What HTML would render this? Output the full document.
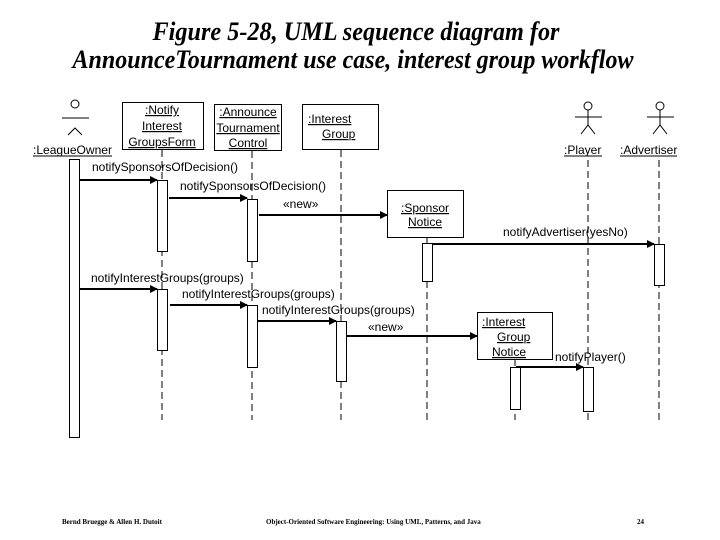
<!DOCTYPE html>
<html><head><meta charset="utf-8"><style>
html,body{margin:0;padding:0;background:#fff;}
svg{display:block;}
text{font-family:"Liberation Sans",sans-serif;font-size:12px;fill:#000;}
.t{font-family:"Liberation Serif",serif;font-style:italic;font-weight:bold;font-size:26px;}
.f{font-family:"Liberation Serif",serif;font-weight:bold;font-size:7px;}
.d{stroke:#000;stroke-width:1;stroke-dasharray:7,4;fill:none;}
.b{fill:#fff;stroke:#000;stroke-width:1;}
.a{stroke:#000;stroke-width:2;fill:none;}
</style></head><body>
<svg width="720" height="540" viewBox="0 0 720 540" xmlns="http://www.w3.org/2000/svg">
<defs><marker id="ar" markerWidth="8" markerHeight="8" refX="7" refY="4" orient="auto" markerUnits="userSpaceOnUse"><path d="M0,0 L8,4 L0,8 z" fill="#000"/></marker></defs>
<text class="t" x="356" y="40" text-anchor="middle" textLength="407" lengthAdjust="spacingAndGlyphs">Figure 5-28, UML sequence diagram for</text>
<text class="t" x="353" y="68" text-anchor="middle" textLength="561" lengthAdjust="spacingAndGlyphs">AnnounceTournament use case, interest group workflow</text>

<line class="d" x1="162" y1="150" x2="162" y2="420"/>
<line class="d" x1="252" y1="151" x2="252" y2="420"/>
<line class="d" x1="341" y1="150" x2="341" y2="420"/>
<line class="d" x1="427" y1="237" x2="427" y2="420"/>
<line class="d" x1="515" y1="359" x2="515" y2="420"/>
<line class="d" x1="588" y1="160" x2="588" y2="420"/>
<line class="d" x1="659" y1="160" x2="659" y2="420"/>

<circle cx="75" cy="104" r="4" fill="none" stroke="#000"/>
<line x1="62" y1="118" x2="89" y2="118" stroke="#000"/>
<path d="M68,135 L75,128 L82,135" fill="none" stroke="#000"/>
<text x="33" y="154" textLength="79" lengthAdjust="spacingAndGlyphs">:LeagueOwner</text>
<line x1="33" y1="156" x2="112" y2="156" stroke="#000"/>
<circle cx="588" cy="106" r="4" fill="none" stroke="#000"/>
<line x1="575" y1="117" x2="602" y2="117" stroke="#000"/>
<line x1="588" y1="110" x2="588" y2="125" stroke="#000"/>
<path d="M581,134 L588,125 L595,134" fill="none" stroke="#000"/>
<text x="564" y="154">:Player</text>
<line x1="564" y1="156" x2="602" y2="156" stroke="#000"/>
<circle cx="660" cy="106" r="4" fill="none" stroke="#000"/>
<line x1="647" y1="117" x2="674" y2="117" stroke="#000"/>
<line x1="660" y1="110" x2="660" y2="125" stroke="#000"/>
<path d="M653,134 L660,125 L667,134" fill="none" stroke="#000"/>
<text x="620" y="154">:Advertiser</text>
<line x1="620" y1="156" x2="677" y2="156" stroke="#000"/>

<rect class="b" x="122.5" y="102.5" width="81" height="47"/>
<text x="162" y="114" text-anchor="middle" text-decoration="underline">:Notify</text>
<text x="162" y="130" text-anchor="middle" text-decoration="underline">Interest</text>
<text x="162" y="146" text-anchor="middle" text-decoration="underline">GroupsForm</text>
<rect class="b" x="214.5" y="104.5" width="67" height="46"/>
<text x="248" y="116" text-anchor="middle" text-decoration="underline">:Announce</text>
<text x="248" y="132" text-anchor="middle" text-decoration="underline">Tournament</text>
<text x="248" y="147" text-anchor="middle" text-decoration="underline">Control</text>
<rect class="b" x="302.5" y="104.5" width="76" height="45"/>
<text x="308" y="123" text-decoration="underline">:Interest</text>
<text x="322" y="138" text-decoration="underline">Group</text>
<rect class="b" x="387.5" y="190.5" width="76" height="47"/>
<text x="425" y="212" text-anchor="middle" text-decoration="underline">:Sponsor</text>
<text x="425" y="226" text-anchor="middle" text-decoration="underline">Notice</text>
<rect class="b" x="477.5" y="312.5" width="75" height="47"/>
<text x="482" y="326" text-decoration="underline">:Interest</text>
<text x="497" y="341" text-decoration="underline">Group</text>
<text x="492" y="356" text-decoration="underline">Notice</text>

<rect class="b" x="69.5" y="159.5" width="10" height="278"/>
<rect class="b" x="157.5" y="180.5" width="10" height="71"/>
<rect class="b" x="247.5" y="199.5" width="10" height="62"/>
<rect class="b" x="422.5" y="243.5" width="10" height="38"/>
<rect class="b" x="654.5" y="244.5" width="10" height="41"/>
<rect class="b" x="157.5" y="289.5" width="10" height="61"/>
<rect class="b" x="247.5" y="305.5" width="10" height="62"/>
<rect class="b" x="336.5" y="321.5" width="10" height="60"/>
<rect class="b" x="510.5" y="367.5" width="10" height="42"/>
<rect class="b" x="583.5" y="367.5" width="10" height="44"/>

<line class="a" x1="80" y1="180" x2="157" y2="180" marker-end="url(#ar)"/>
<text x="92" y="171">notifySponsorsOfDecision()</text>
<line class="a" x1="169" y1="198" x2="247" y2="198" marker-end="url(#ar)"/>
<text x="180" y="190">notifySponsorsOfDecision()</text>
<line class="a" x1="259" y1="215" x2="387" y2="215" marker-end="url(#ar)"/>
<text x="283" y="208">«new»</text>
<line class="a" x1="432" y1="244" x2="654" y2="244" marker-end="url(#ar)"/>
<text x="503" y="236">notifyAdvertiser(yesNo)</text>
<line class="a" x1="80" y1="289" x2="157" y2="289" marker-end="url(#ar)"/>
<text x="91" y="282">notifyInterestGroups(groups)</text>
<line class="a" x1="170" y1="305" x2="247" y2="305" marker-end="url(#ar)"/>
<text x="182" y="298">notifyInterestGroups(groups)</text>
<line class="a" x1="258" y1="321" x2="336" y2="321" marker-end="url(#ar)"/>
<text x="262" y="314">notifyInterestGroups(groups)</text>
<line class="a" x1="346" y1="336" x2="477" y2="336" marker-end="url(#ar)"/>
<text x="368" y="331">«new»</text>
<line class="a" x1="516" y1="367" x2="583" y2="367" marker-end="url(#ar)"/>
<text x="555" y="361">notifyPlayer()</text>

<text class="f" x="62" y="524">Bernd Bruegge &amp; Allen H. Dutoit</text>
<text class="f" x="266" y="524">Object-Oriented Software Engineering: Using UML, Patterns, and Java</text>
<text class="f" x="637" y="524">24</text>
</svg>
</body></html>
